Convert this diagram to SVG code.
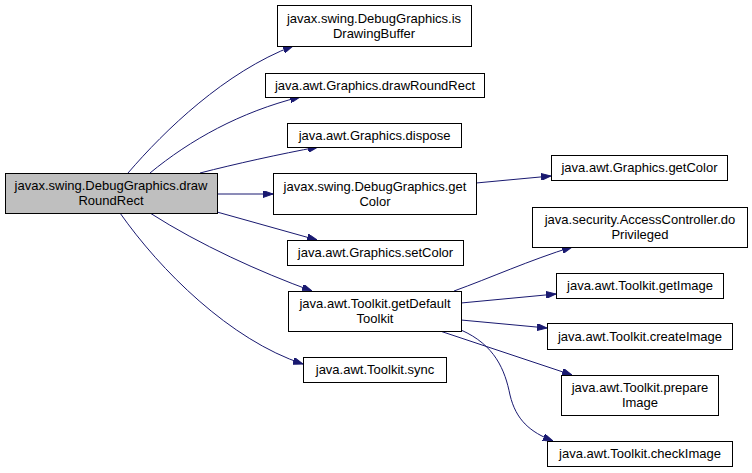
<svg xmlns="http://www.w3.org/2000/svg" width="752" height="473" viewBox="0 0 752 473">
<defs>
<marker id="arr" viewBox="0 0 10 7" refX="10" refY="3.5" markerWidth="10" markerHeight="7" markerUnits="userSpaceOnUse" orient="auto">
<path d="M0,0 L10,3.5 L0,7 z" fill="#191970" stroke="#191970" stroke-width="1"/>
</marker>
</defs>
<style>
rect{fill:#ffffff;stroke:#000000;stroke-width:1}
.main rect{fill:#bfbfbf}
text{font-family:"Liberation Sans",Arial,sans-serif;font-size:13px;fill:#000000;text-anchor:middle}
.edges path{fill:none;stroke:#191970;stroke-width:1;marker-end:url(#arr)}
</style>
<rect x="0" y="0" width="752" height="473" style="fill:#ffffff;stroke:none"/>
<g class="edges" id="edges">
<path d="M128,173 C165,130 225,72 293,46"/>
<path d="M150,173 C190,140 240,112 300,97"/>
<path d="M200,173 C235,164 280,154 318,147"/>
<path d="M217,194 L273,194"/>
<path d="M217,212 L317,240"/>
<path d="M150,213 C200,245 260,272 312,291"/>
<path d="M120,213 C160,270 230,340 303,364"/>
<path d="M476,183 L551,176"/>
<path d="M454,291 C490,278 530,260 572,247"/>
<path d="M461,303 L556,294"/>
<path d="M461,320 L547,328"/>
<path d="M440,331 L572,375"/>
<path d="M461,330 C495,345 505,370 510,395 C516,420 530,432 553,441"/>
</g>
<g id="n_main" class="main"><rect x="5.5" y="173.5" width="212" height="40"/><text x="111" y="190">javax.swing.DebugGraphics.draw</text><text x="111" y="205">RoundRect</text></g>
<g id="n_isDrawingBuffer"><rect x="277.5" y="5.5" width="194" height="41"/><text x="374" y="22.5">javax.swing.DebugGraphics.is</text><text x="374" y="37.5">DrawingBuffer</text></g>
<g id="n_drawRoundRect"><rect x="265.5" y="73.5" width="219" height="24"/><text x="375" y="89.5">java.awt.Graphics.drawRoundRect</text></g>
<g id="n_dispose"><rect x="287.5" y="123.5" width="174" height="24"/><text x="374.5" y="139.5">java.awt.Graphics.dispose</text></g>
<g id="n_dgGetColor"><rect x="273.5" y="173.5" width="203" height="41"/><text x="375" y="190.5">javax.swing.DebugGraphics.get</text><text x="375" y="205.5">Color</text></g>
<g id="n_setColor"><rect x="287.5" y="240.5" width="176" height="25"/><text x="375.5" y="257">java.awt.Graphics.setColor</text></g>
<g id="n_getDefaultToolkit"><rect x="288.5" y="291.5" width="173" height="40"/><text x="375" y="308">java.awt.Toolkit.getDefault</text><text x="375" y="323">Toolkit</text></g>
<g id="n_sync"><rect x="303.5" y="357.5" width="143" height="25"/><text x="375" y="374">java.awt.Toolkit.sync</text></g>
<g id="n_gGetColor"><rect x="551.5" y="155.5" width="176" height="25"/><text x="639.5" y="172">java.awt.Graphics.getColor</text></g>
<g id="n_doPrivileged"><rect x="532.5" y="207.5" width="215" height="40"/><text x="640" y="224">java.security.AccessController.do</text><text x="640" y="239">Privileged</text></g>
<g id="n_getImage"><rect x="556.5" y="273.5" width="167" height="25"/><text x="640" y="290">java.awt.Toolkit.getImage</text></g>
<g id="n_createImage"><rect x="547.5" y="323.5" width="185" height="26"/><text x="640" y="340.5">java.awt.Toolkit.createImage</text></g>
<g id="n_prepareImage"><rect x="561.5" y="375.5" width="157" height="40"/><text x="640" y="392">java.awt.Toolkit.prepare</text><text x="640" y="407">Image</text></g>
<g id="n_checkImage"><rect x="547.5" y="441.5" width="185" height="25"/><text x="640" y="458">java.awt.Toolkit.checkImage</text></g>
</svg>
